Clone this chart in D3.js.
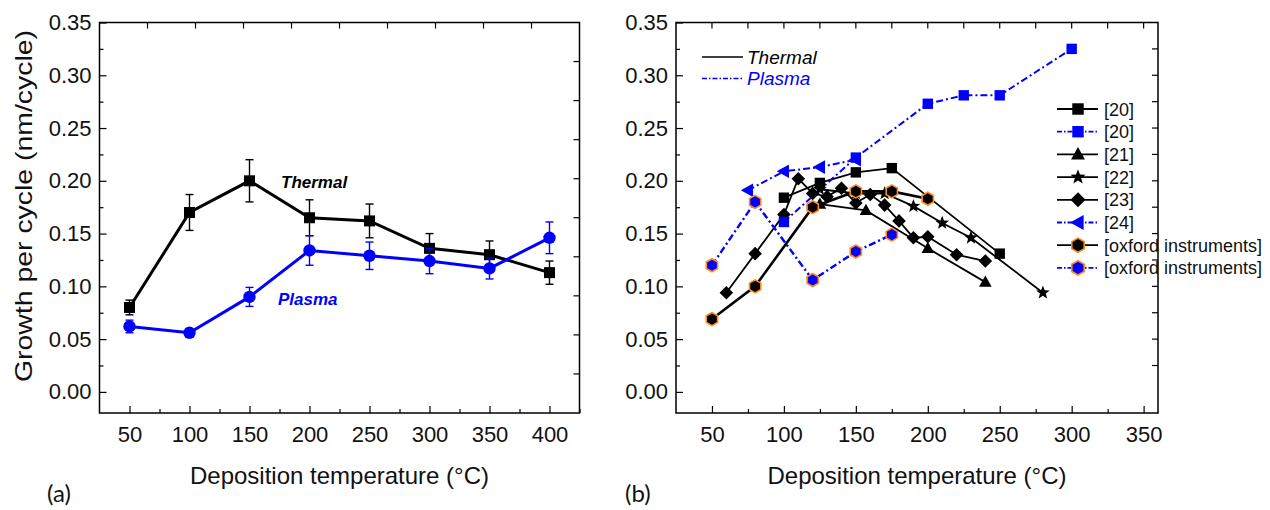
<!DOCTYPE html>
<html><head><meta charset="utf-8">
<script src="https://cdn.jsdelivr.net/npm/d3@7"></script>
<style>body{margin:0;background:#fff}svg{display:block}</style>
</head><body>
<svg id="c" width="1270" height="510"></svg>
<script>
// ---------- DATA ----------
const tempsA = [50, 100, 150, 200, 250, 300, 350, 400];
const thermalA = [0.080, 0.170, 0.200, 0.165, 0.162, 0.136, 0.130, 0.113];
const thermalErrA = [0.007, 0.017, 0.020, 0.017, 0.016, 0.014, 0.013, 0.011];
const plasmaA = [0.062, 0.056, 0.090, 0.134, 0.129, 0.124, 0.117, 0.146];
const plasmaErrA = [0.006, 0.004, 0.009, 0.014, 0.013, 0.012, 0.010, 0.015];

const ref20T_x = [100, 125, 150, 175, 250];
const ref20T_y = [0.184, 0.198, 0.208, 0.212, 0.131];
const ref20P_x = [100, 150, 200, 225, 250, 300];
const ref20P_y = [0.161, 0.222, 0.273, 0.281, 0.281, 0.325];
const ref21_x = [125, 157, 200, 240];
const ref21_y = [0.178, 0.172, 0.136, 0.104];
const ref22_x = [125, 150, 170, 190, 210, 230, 280];
const ref22_y = [0.192, 0.188, 0.188, 0.176, 0.160, 0.146, 0.094];
const ref23_x = [60, 80, 100, 110, 120, 130, 140, 150, 160, 170, 180, 190, 200, 220, 240];
const ref23_y = [0.094, 0.131, 0.168, 0.202, 0.188, 0.185, 0.193, 0.179, 0.187, 0.177, 0.162, 0.146, 0.147, 0.130, 0.124];
const ref24_x = [75, 100, 125, 150];
const ref24_y = [0.191, 0.209, 0.213, 0.220];
const oxT_x = [50, 80, 120, 150, 175, 200];
const oxT_y = [0.069, 0.100, 0.175, 0.190, 0.190, 0.183];
const oxP_x = [50, 80, 120, 150, 175];
const oxP_y = [0.120, 0.180, 0.106, 0.133, 0.149];

const xTicksA = [50, 100, 150, 200, 250, 300, 350, 400];
const xTicksB = [50, 100, 150, 200, 250, 300, 350];
const yTicks = [0, 0.05, 0.10, 0.15, 0.20, 0.25, 0.30, 0.35];
const legendLabels = ["[20]", "[20]", "[21]", "[22]", "[23]", "[24]", "[oxford instruments]", "[oxford instruments]"];

// ---------- SETUP ----------
const svg = d3.select("#c");
const FONT = "'Liberation Sans', Arial, Helvetica, sans-serif";
const BLUE = "#0000ff", ORANGE = "#ff8c1a";
const DASHDOT = "7,3,2,3";
const yScale = d3.scaleLinear([-0.02, 0.35], [413, 22.5]);
const xA = d3.scaleLinear([25, 425], [99.5, 579.5]);
const xB = d3.scaleLinear([25, 360], [676, 1158]);

const sym = {
  square: r => `M${-r},${-r}H${r}V${r}H${-r}Z`,
  diamond: r => `M0,${-r}L${r},0L0,${r}L${-r},0Z`,
  triUp: r => `M0,${-r*1.05}L${r},${r*0.75}L${-r},${r*0.75}Z`,
  triLeft: r => `M${-r*1.05},0L${r*0.75},${-r}L${r*0.75},${r}Z`,
  hex: r => { let p = []; for (let i = 0; i < 6; i++) { const a = Math.PI/6 + i*Math.PI/3; p.push([r*Math.cos(a), r*Math.sin(a)]); } return "M" + p.map(q => q.join(",")).join("L") + "Z"; },
  star: r => { let p = []; for (let i = 0; i < 10; i++) { const a = -Math.PI/2 + i*Math.PI/5; const rr = i % 2 ? r*0.42 : r; p.push([rr*Math.cos(a), rr*Math.sin(a)]); } return "M" + p.map(q => q.join(",")).join("L") + "Z"; },
  circle: r => d3.symbol(d3.symbolCircle, Math.PI*r*r)()
};

function frame(g, x, xTicks, topTicksFn, rightTicksFn) {
  const [x0, x1] = x.range();
  const [yb, yt] = yScale.range();
  const minorX = d3.range(x.domain()[0], x.domain()[1] + 0.01, 25).filter(v => !xTicks.includes(v) && v > x.domain()[0]);
  const ax = g.append("g").attr("transform", `translate(0,${yb})`)
    .call(d3.axisBottom(x).tickValues(xTicks).tickFormat(d3.format("d")).tickSizeInner(-7).tickSizeOuter(0).tickPadding(13));
  ax.select(".domain").remove();
  ax.selectAll("text").style("font-family", FONT).style("font-size", "22px").attr("fill", "#111");
  ax.selectAll("line").attr("stroke", "#000").attr("stroke-width", 1.2);
  const axm = g.append("g").attr("transform", `translate(0,${yb})`)
    .call(d3.axisBottom(x).tickValues(minorX).tickFormat("").tickSizeInner(-4).tickSizeOuter(0));
  axm.select(".domain").remove();
  axm.selectAll("line").attr("stroke", "#000").attr("stroke-width", 1.2);
  const minorY = d3.range(0.025, 0.35, 0.05);
  const ay = g.append("g").attr("transform", `translate(${x0},0)`)
    .call(d3.axisLeft(yScale).tickValues(yTicks).tickFormat(d3.format(".2f")).tickSizeInner(-7).tickSizeOuter(0).tickPadding(8));
  ay.select(".domain").remove();
  ay.selectAll("text").style("font-family", FONT).style("font-size", "22px").attr("fill", "#111");
  ay.selectAll("line").attr("stroke", "#000").attr("stroke-width", 1.2);
  const aym = g.append("g").attr("transform", `translate(${x0},0)`)
    .call(d3.axisLeft(yScale).tickValues(minorY).tickFormat("").tickSizeInner(-4).tickSizeOuter(0));
  aym.select(".domain").remove();
  aym.selectAll("line").attr("stroke", "#000").attr("stroke-width", 1.2);
  g.append("g").selectAll("line").data(topTicksFn()).join("line")
    .attr("x1", d => d).attr("x2", d => d).attr("y1", yt).attr("y2", yt + 6)
    .attr("stroke", "#000").attr("stroke-width", 1.2);
  g.append("g").selectAll("line").data(rightTicksFn()).join("line")
    .attr("x1", x1).attr("x2", x1 - 6).attr("y1", d => d).attr("y2", d => d)
    .attr("stroke", "#000").attr("stroke-width", 1.2);
  g.append("rect").attr("x", x0).attr("y", yt).attr("width", x1 - x0).attr("height", yb - yt)
    .attr("fill", "none").attr("stroke", "#000").attr("stroke-width", 1.5);
  g.append("text").attr("x", (x0 + x1) / 2).attr("y", 484).attr("text-anchor", "middle")
    .style("font-family", FONT).style("font-size", "24px").attr("fill", "#111").text("Deposition temperature (°C)");
}

// ---------- PANEL A ----------
const gA = svg.append("g");
frame(gA, xA, xTicksA,
  () => d3.range(1, 10).map(i => xA.range()[0] + i * (xA.range()[1] - xA.range()[0]) / 10),
  () => d3.range(1, 10).map(i => yScale.range()[1] + i * (yScale.range()[0] - yScale.range()[1]) / 10));

gA.append("text").attr("transform", "translate(32,206) rotate(-90)").attr("text-anchor", "middle")
  .attr("textLength", 352).attr("lengthAdjust", "spacingAndGlyphs")
  .style("font-family", FONT).style("font-size", "24px").attr("fill", "#111").text("Growth per cycle (nm/cycle)");

function drawA(vals, errs, color, shape, r) {
  const pts = tempsA.map((t, i) => ({ x: t, y: vals[i], e: errs[i] }));
  gA.append("path").datum(pts).attr("fill", "none").attr("stroke", color).attr("stroke-width", 3)
    .attr("d", d3.line(d => xA(d.x), d => yScale(d.y)));
  const eb = gA.append("g").attr("stroke", color).attr("stroke-width", 1.4);
  pts.forEach(d => {
    const cx = xA(d.x), yt = yScale(d.y + d.e), yb = yScale(d.y - d.e);
    eb.append("line").attr("x1", cx).attr("x2", cx).attr("y1", yt).attr("y2", yb);
    eb.append("line").attr("x1", cx - 4).attr("x2", cx + 4).attr("y1", yt).attr("y2", yt);
    eb.append("line").attr("x1", cx - 4).attr("x2", cx + 4).attr("y1", yb).attr("y2", yb);
  });
  gA.append("g").selectAll("path").data(pts).join("path")
    .attr("transform", d => `translate(${xA(d.x)},${yScale(d.y)})`)
    .attr("d", sym[shape](r)).attr("fill", color);
}
drawA(thermalA, thermalErrA, "#000", "square", 5.5);
drawA(plasmaA, plasmaErrA, BLUE, "circle", 6.2);

gA.append("text").attr("x", 281).attr("y", 188).style("font-family", FONT).style("font-size", "17px")
  .style("font-weight", "bold").style("font-style", "italic").attr("fill", "#000").text("Thermal");
gA.append("text").attr("x", 278).attr("y", 305).style("font-family", FONT).style("font-size", "17px")
  .style("font-weight", "bold").style("font-style", "italic").attr("fill", BLUE).text("Plasma");

// ---------- PANEL B ----------
const gB = svg.append("g");
const minorAllB = d3.range(50, 360, 25);
frame(gB, xB, xTicksB,
  () => minorAllB.map(v => xB(v)),
  () => d3.range(0.025, 0.35, 0.025).map(v => yScale(v)));

const seriesB = [
  { xs: ref20T_x, ys: ref20T_y, color: "#000", dash: null, shape: "square", r: 5.2, fill: "#000", stroke: null, w: 1.8 },
  { xs: ref21_x, ys: ref21_y, color: "#000", dash: null, shape: "triUp", r: 6.3, fill: "#000", stroke: null, w: 1.8 },
  { xs: ref22_x, ys: ref22_y, color: "#000", dash: null, shape: "star", r: 7.2, fill: "#000", stroke: null, w: 1.8 },
  { xs: ref23_x, ys: ref23_y, color: "#000", dash: null, shape: "diamond", r: 6.8, fill: "#000", stroke: null, w: 1.8 },
  { xs: oxT_x, ys: oxT_y, color: "#000", dash: null, shape: "hex", r: 6.5, fill: "#000", stroke: ORANGE, w: 2.6 },
  { xs: ref24_x, ys: ref24_y, color: BLUE, dash: DASHDOT, shape: "triLeft", r: 6.8, fill: BLUE, stroke: null, w: 2 },
  { xs: ref20P_x, ys: ref20P_y, color: BLUE, dash: DASHDOT, shape: "square", r: 5.2, fill: BLUE, stroke: null, w: 2 },
  { xs: oxP_x, ys: oxP_y, color: BLUE, dash: DASHDOT, shape: "hex", r: 6.5, fill: BLUE, stroke: ORANGE, w: 2.4 }
];
seriesB.forEach(s => {
  const pts = s.xs.map((v, i) => [v, s.ys[i]]);
  gB.append("path").datum(pts).attr("fill", "none").attr("stroke", s.color).attr("stroke-width", s.w)
    .attr("stroke-dasharray", s.dash).attr("d", d3.line(d => xB(d[0]), d => yScale(d[1])));
});
seriesB.forEach(s => {
  const pts = s.xs.map((v, i) => [v, s.ys[i]]);
  gB.append("g").selectAll("path").data(pts).join("path")
    .attr("transform", d => `translate(${xB(d[0])},${yScale(d[1])})`)
    .attr("d", sym[s.shape](s.r)).attr("fill", s.fill)
    .attr("stroke", s.stroke || "none").attr("stroke-width", 1.6);
});

const lg1 = gB.append("g");
lg1.append("line").attr("x1", 702).attr("x2", 743).attr("y1", 57).attr("y2", 57).attr("stroke", "#000").attr("stroke-width", 1.6);
lg1.append("text").attr("x", 747).attr("y", 63.5).style("font-family", FONT).style("font-size", "19px").style("font-style", "italic").attr("fill", "#000").text("Thermal");
lg1.append("line").attr("x1", 702).attr("x2", 743).attr("y1", 78.5).attr("y2", 78.5).attr("stroke", BLUE).attr("stroke-width", 1.6).attr("stroke-dasharray", "5,2,1.5,2");
lg1.append("text").attr("x", 747).attr("y", 85).style("font-family", FONT).style("font-size", "19px").style("font-style", "italic").attr("fill", BLUE).text("Plasma");

const legOrder = [0, 6, 1, 2, 3, 5, 4, 7];
const lg2 = gB.append("g");
legOrder.forEach((si, row) => {
  const s = seriesB[si];
  const yy = 109 + row * 22.7;
  lg2.append("line").attr("x1", 1057).attr("x2", 1098).attr("y1", yy).attr("y2", yy)
    .attr("stroke", s.color).attr("stroke-width", 1.8).attr("stroke-dasharray", s.dash ? "5,2,1.5,2" : null);
  lg2.append("path").attr("transform", `translate(1078,${yy})`).attr("d", sym[s.shape](s.r * 1.1))
    .attr("fill", s.fill).attr("stroke", s.stroke || "none").attr("stroke-width", 1.6);
  lg2.append("text").attr("x", 1104).attr("y", yy + 6.5).style("font-family", FONT).style("font-size", "18px")
    .attr("fill", "#111").text(legendLabels[row]);
});

svg.append("text").attr("x", 47).attr("y", 502).style("font-family", "Lato, 'Open Sans', sans-serif").style("font-size", "24px").attr("fill", "#111").text("(a)");
svg.append("text").attr("x", 625).attr("y", 502).style("font-family", "Lato, 'Open Sans', sans-serif").style("font-size", "24px").attr("fill", "#111").text("(b)");
</script>
</body></html>
